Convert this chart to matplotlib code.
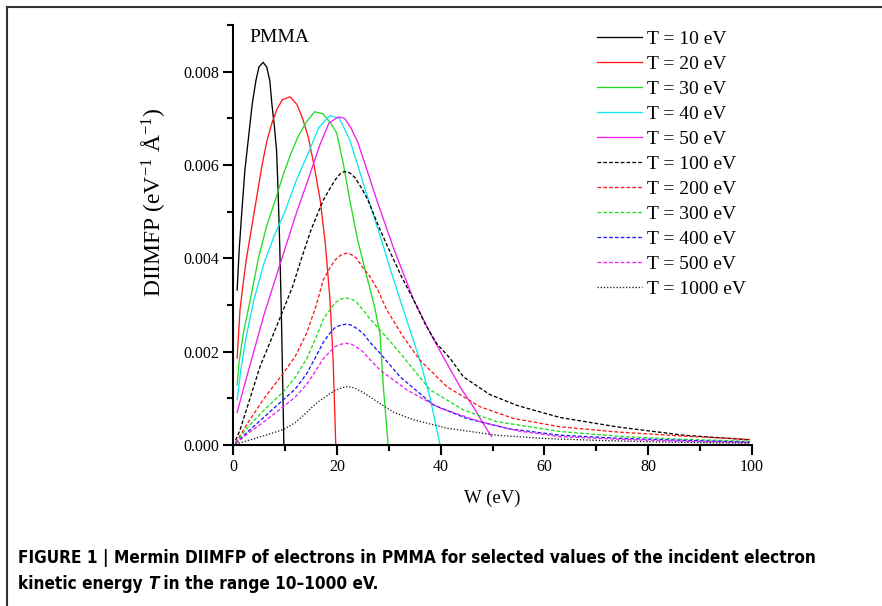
import matplotlib
matplotlib.use("Agg")
import matplotlib.pyplot as plt
from matplotlib import font_manager as fm
from matplotlib.lines import Line2D
from matplotlib.ticker import MultipleLocator, FormatStrFormatter

# # data (W in eV, DIIMFP in 1/(eV A))
w_10 = [0.8, 1.2, 1.7, 2.3, 3.0, 3.7, 4.4, 5.0, 5.8, 6.5, 7.1, 7.5, 8.0, 8.4, 8.7, 9.0, 9.3, 9.55, 9.8]
d_10 = [0.00332, 0.0042, 0.0050, 0.0059, 0.0066, 0.0073, 0.0078, 0.0081, 0.0082, 0.0081, 0.0078, 0.0073,
        0.0068, 0.0063, 0.0054, 0.0043, 0.0029, 0.0015, 0.0]

w_20 = [0.8, 1.35, 2.0, 2.6, 3.5, 4.4, 5.6, 6.5, 7.5, 8.5, 9.5, 11.0, 12.3, 13.4, 14.5, 15.6, 16.8, 17.8,
        18.7, 19.3, 19.8]
d_20 = [0.00186, 0.0029, 0.0035, 0.0040, 0.0046, 0.0052, 0.0060, 0.0065, 0.0069, 0.0072, 0.0074, 0.00746,
        0.0073, 0.0070, 0.0066, 0.0060, 0.00525, 0.0043, 0.0031, 0.0018, 0.0]

w_30 = [0.8, 1.2, 2.0, 3.3, 4.9, 6.5, 8.3, 9.7, 11.0, 12.5, 14.0, 15.7, 17.3, 18.8, 20.0, 21.3, 22.5, 24.0,
        25.8, 27.2, 28.3, 29.0, 29.9]
d_30 = [0.00129, 0.0018, 0.0024, 0.0031, 0.0040, 0.0047, 0.0053, 0.0058, 0.0062, 0.0066, 0.0069, 0.00714,
        0.0071, 0.0069, 0.00668, 0.0060, 0.00525, 0.0044, 0.0036, 0.0030, 0.0024, 0.0012, 0.0]

w_40 = [0.8, 1.5, 2.5, 4.0, 6.0, 8.0, 10.0, 12.3, 14.8, 16.5, 18.7, 20.5, 22.5, 24.3, 26.1, 28.6, 30.5,
        32.2, 34.0, 36.0, 38.0, 39.9]
d_40 = [0.00097, 0.0016, 0.0023, 0.0031, 0.0039, 0.0045, 0.0050, 0.0057, 0.00633, 0.0068, 0.00706, 0.0070,
        0.00654, 0.0059, 0.00525, 0.0044, 0.0037, 0.00311, 0.0025, 0.00182, 0.0010, 0.0]

w_50 = [0.8, 2.0, 4.0, 6.0, 8.0, 10.0, 12.3, 14.2, 16.8, 18.5, 20.3, 21.5, 22.7, 24.0, 25.5, 27.7, 31.0,
        34.8, 38.0, 41.2, 44.0, 46.3, 48.0, 49.8]
d_50 = [0.0007, 0.0012, 0.0020, 0.0028, 0.0035, 0.0042, 0.0050, 0.0056, 0.00645, 0.0069, 0.00703, 0.0070,
        0.0068, 0.0065, 0.0060, 0.00525, 0.0042, 0.00311, 0.0024, 0.00175, 0.0012, 0.00082, 0.0005, 0.00018]

w_100 = [0.5, 1.35, 3.0, 5.2, 7.5, 9.7, 11.5, 13.2, 15.0, 17.4, 18.7, 19.8, 20.8, 21.5, 22.5, 23.5, 24.8,
         26.0, 28.0, 30.0, 32.5, 34.8, 37.0, 39.2, 41.8, 44.4, 49.5, 54.7, 57.2, 63.0, 73.9, 86.8, 99.6]
d_100 = [0.0001, 0.00032, 0.0009, 0.00168, 0.0023, 0.0029, 0.0034, 0.0040, 0.0046, 0.00525, 0.0055, 0.0057,
         0.00583, 0.00586, 0.00583, 0.00573, 0.0055, 0.00525, 0.0047, 0.0042, 0.0036, 0.00311, 0.0026,
         0.00218, 0.00186, 0.00146, 0.00108, 0.00085, 0.00077, 0.00059, 0.00039, 0.00021, 0.00011]

w_200 = [0.5, 3.0, 6.0, 9.7, 12.0, 14.2, 16.0, 17.4, 18.7, 19.7, 20.8, 21.8, 22.8, 23.8, 25.0, 26.4, 28.0,
         29.6, 32.8, 36.0, 41.2, 47.6, 54.0, 63.0, 73.9, 86.8, 99.6]
d_200 = [0.00005, 0.0005, 0.001, 0.00154, 0.0019, 0.0024, 0.00298, 0.00354, 0.0038, 0.00397, 0.00407,
         0.00411, 0.00408, 0.0040, 0.0038, 0.00361, 0.0033, 0.0029, 0.00232, 0.00182, 0.00125, 0.00082,
         0.00057, 0.00039, 0.00028, 0.00019, 0.00012]

w_300 = [0.5, 3.0, 6.0, 9.7, 12.0, 14.2, 16.0, 17.4, 18.7, 19.7, 20.8, 21.8, 22.8, 23.8, 25.0, 26.4, 28.3,
         32.2, 38.0, 44.4, 50.8, 63.0, 75.0, 87.0, 99.6]
d_300 = [0.00004, 0.0004, 0.00075, 0.00114, 0.00145, 0.00185, 0.0023, 0.0027, 0.0029, 0.00305, 0.00313,
         0.00315, 0.00313, 0.00306, 0.0029, 0.0027, 0.00247, 0.00197, 0.00118, 0.00075, 0.0005, 0.00029,
         0.00018, 0.00012, 0.00008]

w_400 = [0.5, 3.0, 6.0, 9.7, 12.0, 14.2, 16.0, 17.4, 18.7, 19.7, 20.8, 21.8, 22.8, 23.8, 25.0, 26.4, 28.3,
         32.2, 38.6, 45.0, 53.0, 63.0, 75.0, 87.0, 99.6]
d_400 = [0.00003, 0.0003, 0.0006, 0.00097, 0.0012, 0.00153, 0.0019, 0.0022, 0.0024, 0.00252, 0.00257,
         0.00259, 0.00257, 0.0025, 0.0024, 0.0022, 0.00197, 0.00146, 0.00086, 0.00057, 0.00035, 0.00021,
         0.00014, 0.0001, 0.00006]

w_500 = [0.5, 3.0, 6.0, 9.7, 12.0, 14.2, 16.0, 17.4, 18.7, 19.7, 20.8, 21.8, 22.8, 23.8, 25.0, 26.4, 28.3,
         33.5, 39.9, 47.6, 55.0, 63.0, 75.0, 87.0, 99.6]
d_500 = [0.00003, 0.00026, 0.0005, 0.00082, 0.00103, 0.0013, 0.0016, 0.00185, 0.002, 0.00211, 0.00216,
         0.00218, 0.00216, 0.0021, 0.002, 0.00183, 0.00161, 0.00118, 0.00079, 0.0005, 0.0003, 0.00018,
         0.00012, 0.00008, 0.00005]

w_1000 = [0.5, 3.0, 6.0, 9.7, 12.0, 14.2, 16.1, 17.4, 18.7, 19.7, 20.8, 21.8, 22.8, 23.8, 25.0, 26.4, 28.3,
          31.0, 34.8, 41.2, 50.8, 60.0, 70.0, 80.0, 90.0, 99.6]
d_1000 = [0.00002, 0.0001, 0.0002, 0.00033, 0.00048, 0.0007, 0.0009, 0.001, 0.0011, 0.00117, 0.00122,
          0.00125, 0.00124, 0.0012, 0.00113, 0.00103, 0.00089, 0.0007, 0.00054, 0.00036, 0.00021, 0.00014,
          0.0001, 0.00007, 0.00005, 0.00004]

labels = ["T = 10 eV", "T = 20 eV", "T = 30 eV", "T = 40 eV", "T = 50 eV",
          "T = 100 eV", "T = 200 eV", "T = 300 eV", "T = 400 eV", "T = 500 eV",
          "T = 1000 eV"]

caption_1 = "FIGURE 1 | Mermin DIIMFP of electrons in PMMA for selected values of the incident electron"
caption_2 = [("kinetic energy ", "normal"), ("T", "italic"), (" in the range 10–1000 eV.", "normal")]

plt.rcParams["font.family"] = ["Liberation Serif", "DejaVu Serif"]
plt.rcParams["mathtext.fontset"] = "custom"
plt.rcParams["mathtext.rm"] = "Liberation Serif"
plt.rcParams["mathtext.it"] = "Liberation Serif:italic"

fig = plt.figure(figsize=(8.82, 6.06), dpi=100)
ax = fig.add_axes([233 / 882, 1 - 445 / 606, 519 / 882, 420 / 606])

dash = (0, (2.8, 1.6))
dot = (0, (1.0, 1.4))
series = [
    (w_10, d_10, "black", "-"),
    (w_20, d_20, "#ff1a1a", "-"),
    (w_30, d_30, "#22dd22", "-"),
    (w_40, d_40, "#10e6f0", "-"),
    (w_50, d_50, "#f020f0", "-"),
    (w_100, d_100, "black", dash),
    (w_200, d_200, "#ff1a1a", dash),
    (w_300, d_300, "#22dd22", dash),
    (w_400, d_400, "#1a1aff", dash),
    (w_500, d_500, "#f020f0", dash),
    (w_1000, d_1000, "#222222", dot),
]
for (w, d, c, ls), lab in zip(series, labels):
    ax.plot(w, d, color=c, linestyle=ls, linewidth=0.95, label=lab)

ax.set_xlim(0, 100)
ax.set_ylim(0, 0.009)
ax.spines["top"].set_visible(False)
ax.spines["right"].set_visible(False)
for s in ["left", "bottom"]:
    ax.spines[s].set_linewidth(1.5)

ax.xaxis.set_major_locator(MultipleLocator(20))
ax.xaxis.set_minor_locator(MultipleLocator(10))
ax.yaxis.set_major_locator(MultipleLocator(0.002))
ax.yaxis.set_minor_locator(MultipleLocator(0.001))
ax.yaxis.set_major_formatter(FormatStrFormatter("%.3f"))
ax.tick_params(which="major", direction="out", length=7, width=1.5, labelsize=11.5, pad=3)
ax.tick_params(which="minor", direction="out", length=4, width=1.5)

ax.set_xlabel("W (eV)", fontsize=13.5, labelpad=11)
ax.set_ylabel("DIIMFP (eV$^{-1}$ Å$^{-1}$)", fontsize=17)
ax.yaxis.set_label_coords(-0.127, 0.579)

ax.text(0.031, 0.99, "PMMA", transform=ax.transAxes, fontsize=14, va="top", ha="left")

ax.legend(loc="upper left", bbox_to_anchor=(0.701, 0.988), frameon=False,
          fontsize=14, handlelength=2.3, handletextpad=0.3, labelspacing=0.38,
          borderpad=0, borderaxespad=0)

# # frame of the figure panel (top and left edges)
fig.add_artist(Line2D([7 / 882, 1], [1 - 7 / 606, 1 - 7 / 606], transform=fig.transFigure,
                      color="#333333", linewidth=1.5))
fig.add_artist(Line2D([7 / 882, 7 / 882], [0, 1 - 7 / 606], transform=fig.transFigure,
                      color="#333333", linewidth=1.5))

# # caption: a narrow bold sans if one is installed, else Liberation Sans fitted to width
def is_narrow(f):
    return ("Narrow" in f.name or "Condensed" in f.name
            or str(f.stretch) in ("condensed", "semi-condensed", "extra-condensed"))

def pick_font(style, name=None):
    for f in fm.fontManager.ttflist:
        if "Serif" in f.name or "Mono" in f.name:
            continue
        if name is not None and f.name != name:
            continue
        if is_narrow(f) and f.weight in (700, "bold") and f.style in style:
            return fm.FontProperties(fname=f.fname), f.name
    return fm.FontProperties(family=["Liberation Sans", "DejaVu Sans"], weight="bold",
                             style=style[0]), None

prop_up, up_name = pick_font(("normal",))
prop_it, _ = pick_font(("italic", "oblique"), up_name)

renderer = fig.canvas.get_renderer()
t1 = fig.text(18 / 882, 1 - 563 / 606, caption_1, fontproperties=prop_up, va="baseline")
t1.set_fontsize(14)
cap_size = 14 * 802 / t1.get_window_extent(renderer=renderer).width
t1.set_fontsize(cap_size)

x0 = 18
for txt, style in caption_2:
    prop = (prop_it if style == "italic" else prop_up).copy()
    prop.set_size(cap_size)
    t = fig.text(x0 / 882, 1 - 589 / 606, txt, fontproperties=prop, va="baseline")
    x0 += t.get_window_extent(renderer=renderer).width

fig.savefig("out.png", dpi=100)
